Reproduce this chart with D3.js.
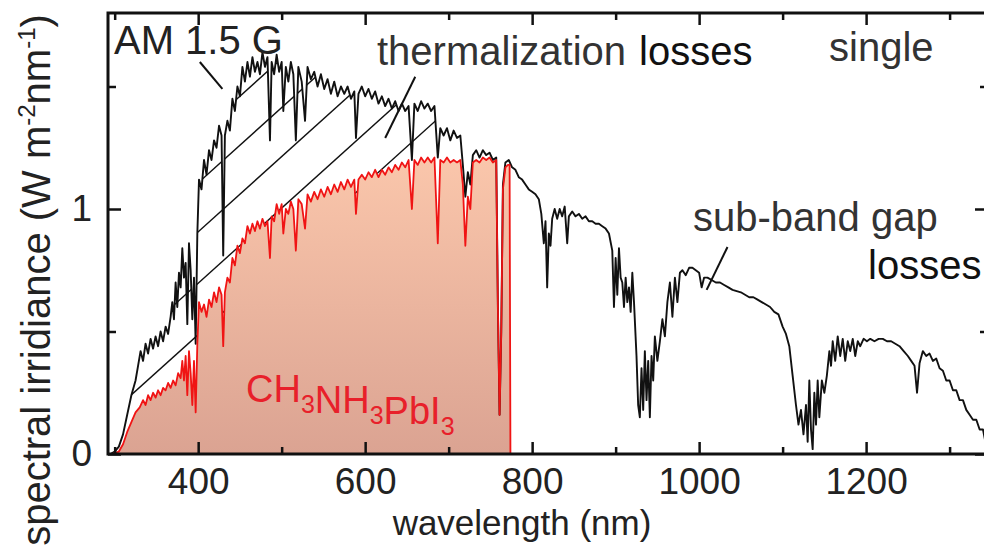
<!DOCTYPE html>
<html>
<head>
<meta charset="utf-8">
<script src="https://cdn.jsdelivr.net/npm/d3@7"></script>
<style>
  body { margin: 0; background: #fff; }
  svg text { font-family: "Liberation Sans", Arial, sans-serif; }
</style>
</head>
<body>
<svg id="chart" width="984" height="550"></svg>
<script>
// AM 1.5 G spectrum, [wavelength nm, W m-2 nm-1]
const am15g = [
  [295,0],[300,0.01],[305,0.03],[310,0.08],[315,0.16],[320,0.24],[325,0.3],[328,0.36],[331,0.42],[334,0.38],
  [337,0.45],[340,0.41],[343,0.47],[346,0.43],[349,0.48],[352,0.44],[355,0.5],[358,0.46],[361,0.52],[364,0.49],
  [367,0.56],[369,0.62],[371,0.55],[373,0.7],[375,0.6],[377,0.74],[379,0.68],[381,0.84],[383,0.72],[385,0.78],
  [387,0.53],[389,0.86],[391,0.75],[393,0.55],[395,0.72],[397,0.45],[399,0.9],[401,1.12],[404,1.08],[407,1.2],
  [410,1.14],[413,1.24],[416,1.2],[419,1.28],[422,1.25],[425,1.34],[428,1.3],[430,0.81],[432,1.3],[435,1.36],
  [438,1.32],[441,1.45],[444,1.4],[447,1.5],[450,1.46],[453,1.58],[456,1.52],[459,1.6],[462,1.54],[465,1.62],
  [468,1.56],[471,1.6],[474,1.55],[477,1.64],[480,1.58],[483,1.62],[486,1.28],[488,1.6],[491,1.55],[494,1.63],
  [497,1.56],[500,1.6],[502,1.4],[505,1.58],[508,1.52],[511,1.6],[514,1.55],[517,1.28],[520,1.58],[524,1.52],
  [528,1.36],[531,1.58],[535,1.53],[539,1.56],[543,1.5],[547,1.55],[551,1.49],[555,1.53],[559,1.47],[563,1.52],
  [567,1.46],[571,1.5],[575,1.47],[579,1.5],[583,1.45],[587,1.48],[589,1.29],[592,1.47],[596,1.5],[600,1.46],
  [604,1.49],[608,1.45],[612,1.48],[616,1.43],[620,1.46],[624,1.42],[628,1.45],[632,1.41],[636,1.44],[640,1.4],
  [644,1.43],[648,1.4],[652,1.42],[656,1.2],[659,1.43],[663,1.4],[667,1.44],[671,1.41],[675,1.43],[679,1.4],
  [683,1.42],[687,1.21],[690,1.33],[694,1.3],[698,1.33],[702,1.28],[706,1.32],[710,1.29],[714,1.3],[717,1.18],
  [720,1.05],[723,1.15],[726,1.1],[729,1.22],[733,1.24],[737,1.21],[741,1.24],[745,1.22],[749,1.23],[753,1.2],
  [757,1.21],[759,0.6],[761,0.16],[763,0.5],[765,1.1],[768,1.19],[772,1.2],[776,1.17],[780,1.16],[784,1.13],
  [788,1.12],[792,1.1],[796,1.08],[800,1.07],[804,1.06],[808,1.04],[811,0.98],[814,0.86],[816,0.95],[818,0.68],
  [820,0.9],[822,0.85],[824,0.96],[827,1.0],[830,0.96],[833,1.0],[836,0.97],[839,1.01],[842,0.86],[844,0.97],
  [848,0.99],[852,0.97],[856,0.98],[860,0.96],[864,0.97],[868,0.95],[872,0.95],[876,0.94],[880,0.94],[884,0.93],
  [888,0.92],[892,0.9],[896,0.83],[898,0.6],[900,0.8],[902,0.65],[904,0.84],[906,0.72],[908,0.7],[910,0.6],
  [912,0.72],[914,0.62],[916,0.68],[918,0.58],[920,0.74],[922,0.62],[925,0.4],[927,0.2],[929,0.15],[931,0.35],
  [933,0.18],[935,0.42],[937,0.22],[939,0.38],[941,0.15],[943,0.4],[945,0.3],[947,0.48],[950,0.38],[953,0.46],
  [956,0.55],[959,0.48],[962,0.62],[965,0.7],[968,0.56],[971,0.72],[974,0.62],[977,0.74],[980,0.75],[984,0.73],
  [988,0.76],[992,0.76],[996,0.75],[1000,0.74],[1003,0.68],[1006,0.72],[1010,0.72],[1015,0.71],[1020,0.7],[1025,0.7],
  [1030,0.69],[1035,0.68],[1040,0.67],[1045,0.665],[1050,0.66],[1055,0.65],[1060,0.64],[1065,0.64],[1070,0.63],[1075,0.62],
  [1080,0.61],[1085,0.6],[1090,0.58],[1095,0.57],[1100,0.52],[1104,0.49],[1108,0.44],[1112,0.32],[1116,0.2],[1119,0.12],
  [1122,0.18],[1125,0.08],[1128,0.2],[1130,0.05],[1132,0.3],[1134,0.1],[1136,0.02],[1138,0.25],[1140,0.12],[1142,0.3],
  [1144,0.15],[1147,0.3],[1150,0.25],[1153,0.32],[1156,0.42],[1158,0.36],[1160,0.46],[1163,0.38],[1166,0.48],[1169,0.4],
  [1172,0.47],[1175,0.38],[1178,0.46],[1181,0.42],[1184,0.47],[1187,0.4],[1190,0.46],[1193,0.44],[1197,0.47],[1201,0.46],
  [1205,0.47],[1210,0.46],[1215,0.47],[1220,0.47],[1225,0.46],[1230,0.46],[1235,0.45],[1240,0.44],[1245,0.42],[1250,0.4],
  [1254,0.38],[1258,0.36],[1261,0.25],[1264,0.37],[1268,0.42],[1272,0.4],[1276,0.41],[1280,0.38],[1284,0.39],[1288,0.35],
  [1292,0.34],[1296,0.3],[1300,0.3],[1304,0.26],[1308,0.26],[1312,0.22],[1316,0.22],[1320,0.18],[1324,0.16],[1328,0.14],
  [1332,0.14],[1336,0.1],[1340,0.1],[1344,0.03],[1346,0.04]
];

// part absorbed by CH3NH3PbI3 (up to the band gap)
const perovskite = [
  [297,0],[305,0.01],[310,0.04],[315,0.09],[320,0.13],[325,0.17],[330,0.19],[334,0.22],[337,0.2],[340,0.24],
  [343,0.22],[346,0.25],[349,0.23],[352,0.26],[355,0.24],[358,0.27],[361,0.26],[364,0.29],[367,0.27],[370,0.3],
  [373,0.28],[376,0.33],[379,0.31],[381,0.38],[383,0.3],[385,0.4],[387,0.24],[389,0.42],[391,0.33],[393,0.2],
  [395,0.38],[397,0.17],[399,0.45],[401,0.62],[404,0.58],[407,0.61],[410,0.56],[413,0.63],[416,0.6],[419,0.66],
  [422,0.62],[425,0.68],[428,0.65],[430,0.44],[432,0.66],[435,0.72],[438,0.7],[441,0.8],[444,0.77],[447,0.85],
  [450,0.82],[453,0.88],[456,0.86],[459,0.93],[462,0.9],[465,0.94],[468,0.91],[471,0.95],[474,0.92],[477,0.96],
  [480,0.93],[483,0.95],[486,0.8],[488,0.97],[491,0.95],[494,1.02],[497,0.98],[500,1.02],[502,0.9],[505,1.0],
  [508,0.98],[511,1.03],[514,1.0],[517,0.83],[520,1.04],[524,1.02],[528,0.92],[531,1.06],[535,1.03],[539,1.07],
  [543,1.04],[547,1.08],[551,1.05],[555,1.09],[559,1.06],[563,1.1],[567,1.07],[571,1.11],[575,1.08],[579,1.12],
  [583,1.09],[587,1.12],[589,0.98],[592,1.12],[596,1.14],[600,1.12],[604,1.15],[608,1.13],[612,1.16],[616,1.13],
  [620,1.16],[624,1.14],[628,1.17],[632,1.15],[636,1.18],[640,1.16],[644,1.19],[648,1.17],[652,1.2],[656,1.0],
  [659,1.2],[663,1.18],[667,1.21],[671,1.19],[675,1.21],[679,1.19],[683,1.21],[687,0.86],[690,1.2],[694,1.19],
  [698,1.21],[702,1.19],[706,1.2],[710,1.19],[714,1.2],[717,1.1],[720,0.85],[723,1.05],[726,1.0],[729,1.19],
  [733,1.2],[737,1.19],[741,1.21],[745,1.2],[749,1.21],[753,1.19],[757,1.2],[759,0.6],[761,0.16],[763,0.5],
  [765,1.08],[768,1.17],[771,1.18],[773,1.18],[774,0]
];

const xMajor = [400, 600, 800, 1000, 1200];
const xMinor = [300, 500, 700, 900, 1100, 1300];
const yMajor = [0, 1];
const yMinor = [0.5, 1.5];
const hatchLevels = [0.18, 0.39, 0.6, 0.8, 1.0, 1.2];   // intercepts at 300 nm
const hatchSlope = 0.00307;                             // per nm
const hatchEnd = 715;                                   // nm

const m = { l: 108, r: 988, t: 13, b: 454 };

const svg = d3.select('#chart');

const x = d3.scaleLinear().domain([292, 1346]).range([m.l, m.r]);
const y = d3.scaleLinear().domain([0, 1.8]).range([m.b, m.t]);

const defs = svg.append('defs');

defs.append('clipPath').attr('id', 'plot')
    .append('rect')
    .attr('x', m.l).attr('y', m.t)
    .attr('width', m.r - m.l).attr('height', m.b - m.t);

const grad = defs.append('linearGradient')
    .attr('id', 'fillGrad')
    .attr('gradientUnits', 'userSpaceOnUse')
    .attr('x1', 0).attr('x2', 0)
    .attr('y1', y(1.2)).attr('y2', y(0));
grad.append('stop').attr('offset', 0).attr('stop-color', '#fac6ab');
grad.append('stop').attr('offset', 1).attr('stop-color', '#dba392');

const line = d3.line().x(d => x(d[0])).y(d => y(d[1]));

// area between the two curves, used to clip the hatching
const lower = perovskite.filter(d => d[0] <= hatchEnd);
const upper = am15g.filter(d => d[0] >= 297 && d[0] <= hatchEnd).reverse();
defs.append('clipPath').attr('id', 'hatchClip')
    .append('path')
    .attr('d', line(lower.concat(upper)) + 'Z');

const plot = svg.append('g').attr('clip-path', 'url(#plot)');

plot.append('path')
    .datum(perovskite)
    .attr('d', d3.area().x(d => x(d[0])).y0(y(0)).y1(d => y(d[1])))
    .attr('fill', 'url(#fillGrad)');

plot.append('g')
    .attr('clip-path', 'url(#hatchClip)')
    .selectAll('path')
    .data(hatchLevels)
    .enter()
    .append('path')
    .attr('d', b => line([[292, b + hatchSlope * (292 - 300)], [hatchEnd, b + hatchSlope * (hatchEnd - 300)]]))
    .attr('stroke', '#111')
    .attr('stroke-width', 1.4)
    .attr('fill', 'none');

plot.append('path')
    .datum(am15g)
    .attr('d', line)
    .attr('fill', 'none')
    .attr('stroke', '#111')
    .attr('stroke-width', 1.9)
    .attr('stroke-linejoin', 'round');

plot.append('path')
    .datum(perovskite)
    .attr('d', line)
    .attr('fill', 'none')
    .attr('stroke', '#f01414')
    .attr('stroke-width', 1.8)
    .attr('stroke-linejoin', 'round');

// axes, ticks pointing inwards
const styleAxis = g => {
    g.select('.domain').remove();
    g.selectAll('line').attr('stroke', '#111').attr('stroke-width', 2.5);
    g.selectAll('text').attr('fill', '#222').style('font-size', '37px')
     .style('font-family', '"Liberation Sans", Arial, sans-serif');
};

svg.append('g').attr('transform', `translate(0,${m.b})`)
   .call(d3.axisBottom(x).tickValues(xMajor).tickSize(-12).tickPadding(14).tickFormat(d3.format('d')))
   .call(styleAxis);
svg.append('g').attr('transform', `translate(0,${m.b})`)
   .call(d3.axisBottom(x).tickValues(xMinor).tickSize(-7).tickFormat(''))
   .call(styleAxis);
svg.append('g').attr('transform', `translate(0,${m.t})`)
   .call(d3.axisTop(x).tickValues(xMajor).tickSize(-12).tickFormat(''))
   .call(styleAxis);
svg.append('g').attr('transform', `translate(0,${m.t})`)
   .call(d3.axisTop(x).tickValues(xMinor).tickSize(-7).tickFormat(''))
   .call(styleAxis);
svg.append('g').attr('transform', `translate(${m.l},0)`)
   .call(d3.axisLeft(y).tickValues(yMajor).tickSize(-13).tickPadding(16).tickFormat(d3.format('d')))
   .call(styleAxis);
svg.append('g').attr('transform', `translate(${m.l},0)`)
   .call(d3.axisLeft(y).tickValues(yMinor).tickSize(-8).tickFormat(''))
   .call(styleAxis);
svg.append('g').attr('transform', `translate(${m.r},0)`)
   .call(d3.axisRight(y).tickValues(yMajor).tickSize(-13).tickFormat(''))
   .call(styleAxis);
svg.append('g').attr('transform', `translate(${m.r},0)`)
   .call(d3.axisRight(y).tickValues(yMinor).tickSize(-8).tickFormat(''))
   .call(styleAxis);

svg.append('rect')
   .attr('x', m.l).attr('y', m.t)
   .attr('width', m.r - m.l).attr('height', m.b - m.t)
   .attr('fill', 'none')
   .attr('stroke', '#111')
   .attr('stroke-width', 3);

// axis titles
svg.append('text')
   .attr('x', 522).attr('y', 535)
   .attr('text-anchor', 'middle')
   .attr('fill', '#222')
   .style('font-size', '35px')
   .text('wavelength (nm)');

const yl = svg.append('text')
   .attr('transform', 'translate(50,280) rotate(-90)')
   .attr('text-anchor', 'middle')
   .attr('fill', '#222')
   .style('font-size', '40px');
yl.append('tspan').text('spectral irridiance (W m');
yl.append('tspan').attr('dy', -15).style('font-size', '24px').text('-2');
yl.append('tspan').attr('dy', 15).text('nm');
yl.append('tspan').attr('dy', -15).style('font-size', '24px').text('-1');
yl.append('tspan').attr('dy', 15).text(')');

// annotations
const note = (tx, ty, str, col) => svg.append('text')
   .attr('x', tx).attr('y', ty)
   .attr('fill', col)
   .style('font-size', '40px')
   .text(str);

note(114, 54, 'AM 1.5 G', '#222');
note(377, 65, 'thermalization', '#333');
note(639, 65, 'losses', '#111');
note(829, 61, 'single', '#333');
note(693, 231, 'sub-band gap', '#333');
note(868, 279, 'losses', '#111');

const chem = svg.append('text')
   .attr('x', 246).attr('y', 402)
   .attr('fill', '#e8202a')
   .style('font-size', '38px');
[['CH', '3'], ['NH', '3'], ['PbI', '3']].forEach(p => {
    chem.append('tspan').text(p[0]);
    chem.append('tspan').attr('dy', 11).style('font-size', '25px').text(p[1]);
    chem.append('tspan').attr('dy', -11).text('');
});

// leader lines
const leader = (a, b) => svg.append('path')
   .attr('d', line([a, b]))
   .attr('stroke', '#111')
   .attr('stroke-width', 2)
   .attr('fill', 'none');

leader([402, 1.6], [429, 1.49]);
leader([660, 1.54], [624, 1.29]);
leader([1034, 0.845], [1009, 0.67]);
</script>
</body>
</html>
